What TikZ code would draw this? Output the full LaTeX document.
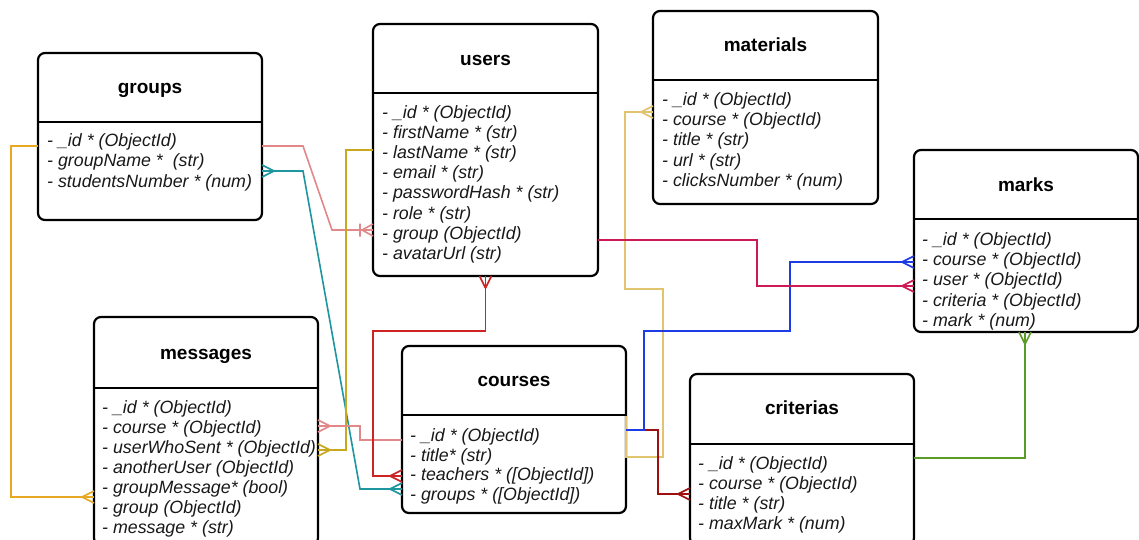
\documentclass[tikz,border=0pt]{standalone}
\usepackage{fontspec}
\setmainfont{Liberation Sans}

% ER "many" end: crow's foot opening towards the entity
\pgfdeclarearrow{
  name = Crow,
  setup code = {
    \pgfarrowssettipend{0pt}
    \pgfarrowssetlineend{0pt}
    \pgfarrowssetbackend{-12pt}
    \pgfarrowshullpoint{0pt}{6pt}
    \pgfarrowshullpoint{-12pt}{0pt}
    \pgfarrowshullpoint{0pt}{-6pt}
  },
  drawing code = {
    \pgfsetdash{}{0pt}
    \pgfsetroundjoin
    \pgfpathmoveto{\pgfqpoint{0pt}{6pt}}
    \pgfpathlineto{\pgfqpoint{-12pt}{0pt}}
    \pgfpathlineto{\pgfqpoint{0pt}{-6pt}}
    \pgfusepathqstroke
  }
}
% ER "one or many" end: crow's foot plus a bar
\pgfdeclarearrow{
  name = CrowBar,
  setup code = {
    \pgfarrowssettipend{0pt}
    \pgfarrowssetlineend{0pt}
    \pgfarrowssetbackend{-13pt}
    \pgfarrowshullpoint{0pt}{6pt}
    \pgfarrowshullpoint{-13pt}{6pt}
    \pgfarrowshullpoint{-13pt}{-6pt}
    \pgfarrowshullpoint{0pt}{-6pt}
  },
  drawing code = {
    \pgfsetdash{}{0pt}
    \pgfsetroundjoin
    \pgfpathmoveto{\pgfqpoint{0pt}{6pt}}
    \pgfpathlineto{\pgfqpoint{-11pt}{0pt}}
    \pgfpathlineto{\pgfqpoint{0pt}{-6pt}}
    \pgfpathmoveto{\pgfqpoint{-13pt}{6.5pt}}
    \pgfpathlineto{\pgfqpoint{-13pt}{-6.5pt}}
    \pgfusepathqstroke
  }
}

\definecolor{cOrange}{RGB}{232,168,36}
\definecolor{cSalmon}{RGB}{226,136,136}
\definecolor{cTeal}{RGB}{30,150,160}
\definecolor{cOlive}{RGB}{200,168,30}
\definecolor{cTan}{RGB}{226,195,112}
\definecolor{cRed}{RGB}{205,35,35}
\definecolor{cMaroon}{RGB}{160,15,15}
\definecolor{cBlue}{RGB}{30,60,230}
\definecolor{cCrimson}{RGB}{205,25,85}
\definecolor{cGreen}{RGB}{90,155,40}

\tikzset{
  entity/.style={draw=black, line width=2.2pt, rounded corners=7pt,
    inner sep=0pt, outer sep=0pt, anchor=north west},
  divider/.style={draw=black, line width=2pt},
  heading/.style={font=\bfseries\fontsize{19}{22}\selectfont, inner sep=0pt,
    anchor=center, text height=13.6pt, text depth=0pt},
  field/.style={font=\itshape\fontsize{17.8}{20}\selectfont, inner sep=0pt,
    anchor=base west, text=black!90},
  link/.style={line width=1.6pt, line join=miter},
}

\begin{document}
\begin{tikzpicture}[x=1pt, y=-1pt]
\useasboundingbox[fill=white] (0,0) rectangle (1139,539);

% ---------- groups ----------
\node[entity, minimum width=224pt, minimum height=167pt] (groups) at (38,53) {};
\draw[divider] (groups.west |- 0,122) -- (groups.east |- 0,122);
\node[heading] (groups-t) at (groups.north |- 0,87) {groups};
\foreach \t [count=\i] in {{- \_id * (ObjectId)}, {- groupName * \ (str)}, {- studentsNumber * (num)}}
  \node[field] (groups-f\i) at (47,{146.3+(\i-1)*20.5}) {\t};

% ---------- users ----------
\node[entity, minimum width=225pt, minimum height=252pt] (users) at (373,24) {};
\draw[divider] (users.west |- 0,93) -- (users.east |- 0,93);
\node[heading] (users-t) at (users.north |- 0,59) {users};
\foreach \t [count=\i] in {{- \_id * (ObjectId)}, {- firstName * (str)}, {- lastName * (str)},
    {- email * (str)}, {- passwordHash * (str)}, {- role * (str)}, {- group (ObjectId)}, {- avatarUrl (str)}}
  \node[field] (users-f\i) at (382,{118.3+(\i-1)*20.15}) {\t};

% ---------- materials ----------
\node[entity, minimum width=225pt, minimum height=193pt] (materials) at (653,11) {};
\draw[divider] (materials.west |- 0,80) -- (materials.east |- 0,80);
\node[heading] (materials-t) at (materials.north |- 0,45) {materials};
\foreach \t [count=\i] in {{- \_id * (ObjectId)}, {- course * (ObjectId)}, {- title * (str)},
    {- url * (str)}, {- clicksNumber * (num)}}
  \node[field] (materials-f\i) at (662,{105.3+(\i-1)*20.25}) {\t};

% ---------- marks ----------
\node[entity, minimum width=224pt, minimum height=182pt] (marks) at (914,150) {};
\draw[divider] (marks.west |- 0,219) -- (marks.east |- 0,219);
\node[heading] (marks-t) at (marks.north |- 0,185) {marks};
\foreach \t [count=\i] in {{- \_id * (ObjectId)}, {- course * (ObjectId)}, {- user * (ObjectId)},
    {- criteria * (ObjectId)}, {- mark * (num)}}
  \node[field] (marks-f\i) at (922,{245.3+(\i-1)*20.25}) {\t};

% ---------- messages ----------
\node[entity, minimum width=224pt, minimum height=228pt] (messages) at (94,317) {};
\draw[divider] (messages.west |- 0,388) -- (messages.east |- 0,388);
\node[heading] (messages-t) at (messages.north |- 0,353) {messages};
\foreach \t [count=\i] in {{- \_id * (ObjectId)}, {- course * (ObjectId)}, {- userWhoSent * (ObjectId)},
    {- anotherUser (ObjectId)}, {- groupMessage* (bool)}, {- group (ObjectId)}, {- message * (str)}}
  \node[field] (messages-f\i) at (102,{413.3+(\i-1)*20}) {\t};

% ---------- courses ----------
\node[entity, minimum width=224pt, minimum height=167pt] (courses) at (402,346) {};
\draw[divider] (courses.west |- 0,415) -- (courses.east |- 0,415);
\node[heading] (courses-t) at (courses.north |- 0,380) {courses};
\foreach \t [count=\i] in {{- \_id * (ObjectId)}, {- title* (str)}, {- teachers * ([ObjectId])},
    {- groups * ([ObjectId])}}
  \node[field] (courses-f\i) at (410,{441.3+(\i-1)*19.7}) {\t};

% ---------- criterias ----------
\node[entity, minimum width=224pt, minimum height=171pt] (criterias) at (690,374) {};
\draw[divider] (criterias.west |- 0,444) -- (criterias.east |- 0,444);
\node[heading] (criterias-t) at (criterias.north |- 0,408) {criterias};
\foreach \t [count=\i] in {{- \_id * (ObjectId)}, {- course * (ObjectId)}, {- title * (str)},
    {- maxMark * (num)}}
  \node[field] (criterias-f\i) at (698,{469.3+(\i-1)*20}) {\t};

% ---------- relations ----------
\draw[link, cOrange, -Crow] (groups.west |- 0,146) -- (11,146) -- (11,497)
  -- (messages.west |- 0,497);
\draw[link, cSalmon, -CrowBar] (groups.east |- 0,146) -- (303,146) -- (332,230)
  -- (users.west |- 0,230);
\draw[link, cTeal, Crow-Crow] (groups.east |- 0,171) -- (303,171) -- (360,489)
  -- (courses.west |- 0,489);
\draw[link, cOlive, -Crow] (users.west |- 0,150) -- (346,150) -- (346,450)
  -- (messages.east |- 0,450);
\draw[link, cSalmon, Crow-] (messages.east |- 0,426) -- (360,426) -- (360,440)
  -- (courses.west |- 0,440);
\draw[link, cRed, Crow-Crow] (users.south) -- (users.south |- 0,331) -- (373,331)
  -- (373,476) -- (courses.west |- 0,476);
\draw[link, cTan, -Crow] (courses.east |- 0,416) -- (courses.east |- 0,457) -- (663,457)
  -- (663,289) -- (625,289) -- (625,112) -- (materials.west |- 0,112);
\draw[link, cMaroon, -Crow] (courses.east |- 0,430) -- (658,430) -- (658,494)
  -- (criterias.west |- 0,494);
\draw[link, cBlue, -Crow] (courses.east |- 0,430) -- (644,430) -- (644,331) -- (790,331)
  -- (790,262) -- (marks.west |- 0,262);
\draw[link, cCrimson, -Crow] (users.east |- 0,240) -- (757,240) -- (757,286)
  -- (marks.west |- 0,286);
\draw[link, cGreen, -Crow] (criterias.east |- 0,458) -- (1025,458) -- (marks.south -| 1025,0);
\end{tikzpicture}
\end{document}
